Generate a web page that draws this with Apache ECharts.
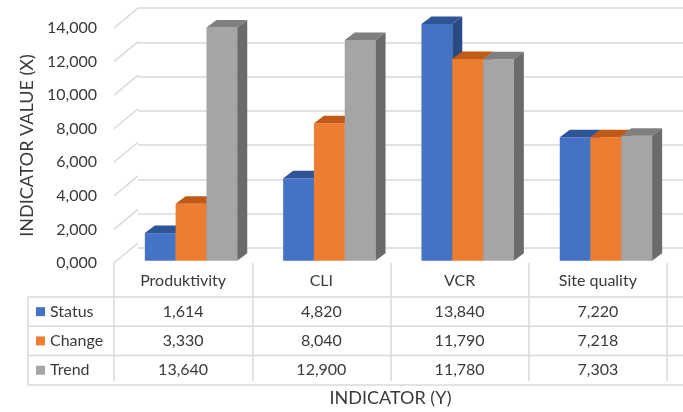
<!DOCTYPE html>
<html>
<head>
<meta charset="utf-8">
<title>Indicator values</title>
<script src="https://cdn.jsdelivr.net/npm/echarts/dist/echarts.min.js"></script>
<style>
  html, body { margin: 0; padding: 0; background: #ffffff; }
  #chart { width: 683px; height: 412px; }
</style>
</head>
<body>
<div id="chart"></div>
<script>
// ---- data ----
const categories = ['Produktivity', 'CLI', 'VCR', 'Site quality'];
const seriesNames = ['Status', 'Change', 'Trend'];
const statusValues = [1.614, 4.820, 13.840, 7.220];
const changeValues = [3.330, 8.040, 11.790, 7.218];
const trendValues = [13.640, 12.900, 11.780, 7.303];
const yMin = 0;
const yMax = 14;
const yStep = 2;
const yTicks = [0, 2, 4, 6, 8, 10, 12, 14];

// ---- styling ----
const FONT = 'Lato, "Liberation Sans", sans-serif';
const TEXT = '#3a3a3a';
const GRID_LINE = '#d9d9d9';
const palette = [
  { front: '#4472c4', top: '#2f5597', side: '#294a82' },
  { front: '#ed7d31', top: '#c25a16', side: '#a84f14' },
  { front: '#a5a5a5', top: '#7f7f7f', side: '#6b6b6b' }
];
const DEPTH_X = 10, DEPTH_Y = 7.5;     // bar depth (projected)
const WALL_X = 24, WALL_Y = 20;        // side wall depth (projected)
const GROUP_RATIO = 0.668;             // share of a category band used by the bars

const fmt = v => v.toFixed(3).replace('.', ',');
const allValues = [statusValues, changeValues, trendValues];

function barRenderer(idx) {
  const c = palette[idx];
  return function (params, api) {
    const cat = api.value(0), val = api.value(1);
    const base = api.coord([cat, 0]);
    const top = api.coord([cat, val]);
    const band = api.size([1, 0])[0];
    const w = band * GROUP_RATIO / 3;
    const x0 = base[0] - band * GROUP_RATIO / 2 + idx * w;
    const x1 = x0 + w;
    const yb = base[1], yt = top[1];
    return {
      type: 'group',
      children: [
        { type: 'rect', shape: { x: x0, y: yt, width: w, height: yb - yt }, style: { fill: c.front } },
        { type: 'polygon', shape: { points: [[x0, yt], [x1, yt], [x1 + DEPTH_X, yt - DEPTH_Y], [x0 + DEPTH_X, yt - DEPTH_Y]] }, style: { fill: c.top } },
        { type: 'polygon', shape: { points: [[x1, yt], [x1 + DEPTH_X, yt - DEPTH_Y], [x1 + DEPTH_X, yb - DEPTH_Y], [x1, yb]] }, style: { fill: c.side } }
      ]
    };
  };
}

const chart = echarts.init(document.getElementById('chart'), null, { renderer: 'canvas' });

const option = {
  animation: false,
  textStyle: { fontFamily: FONT },
  grid: [
    // 0: front plane (axis labels, table header)
    { left: 114, right: 16, top: 28, bottom: 144 },
    // 1: back wall
    { left: 138, right: 0, top: 8, bottom: 164 },
    // 2: bar plane
    { left: 121.9, right: 7.9, top: 21.3, bottom: 151.3 }
  ],
  xAxis: [
    {
      gridIndex: 0, type: 'category', data: categories, boundaryGap: true,
      axisLine: { show: false },
      axisTick: { show: true, length: 118, lineStyle: { color: GRID_LINE, width: 1.5 } },
      axisLabel: { color: TEXT, fontSize: 16, margin: 10, fontFamily: FONT },
      name: 'INDICATOR (Y)', nameLocation: 'middle', nameGap: 126,
      nameTextStyle: { color: TEXT, fontSize: 18, fontFamily: FONT }
    },
    { gridIndex: 1, type: 'category', data: categories, show: false },
    { gridIndex: 2, type: 'category', data: categories, show: false, boundaryGap: true }
  ],
  yAxis: [
    {
      gridIndex: 0, type: 'value', min: yMin, max: yMax, interval: yStep,
      axisLine: { show: false }, axisTick: { show: false }, splitLine: { show: false },
      axisLabel: { color: TEXT, fontSize: 16, margin: 17, formatter: v => fmt(v), fontFamily: FONT },
      name: 'INDICATOR VALUE (X)', nameLocation: 'middle', nameGap: 78, nameRotate: 90,
      nameTextStyle: { color: TEXT, fontSize: 18, fontFamily: FONT }
    },
    {
      gridIndex: 1, type: 'value', min: yMin, max: yMax, interval: yStep,
      axisLine: { show: false }, axisTick: { show: false }, axisLabel: { show: false },
      splitLine: { show: true, lineStyle: { color: GRID_LINE, width: 1.5 } }
    },
    { gridIndex: 2, type: 'value', min: yMin, max: yMax, interval: yStep, show: false, splitLine: { show: false } }
  ],
  series: [
    // side wall: diagonal gridline segments from the front plane to the back wall
    {
      type: 'custom', xAxisIndex: 0, yAxisIndex: 0, silent: true, clip: false,
      data: yTicks.map(t => [0, t]),
      encode: { x: 0, y: 1 },
      renderItem: function (params, api) {
        const p = api.coord([0, api.value(1)]);
        const x = params.coordSys.x;
        return {
          type: 'line',
          shape: { x1: x, y1: p[1], x2: x + WALL_X, y2: p[1] - WALL_Y },
          style: { stroke: GRID_LINE, lineWidth: 1.5 }
        };
      }
    }
  ].concat(seriesNames.map((name, i) => ({
    type: 'custom', name: name, xAxisIndex: 2, yAxisIndex: 2, clip: false,
    data: allValues[i].map((v, k) => [k, v]),
    encode: { x: 0, y: 1 },
    renderItem: barRenderer(i)
  })))
};

chart.setOption(option);

// ---- data table under the plot ----
const TABLE_LEFT = 28;
const ROW_TOP = 297;
const ROW_H = 29.3;
const colRight = chart.convertToPixel({ gridIndex: 0 }, [categories.length - 0.5, 0])[0];
const elements = [];

for (let r = 0; r <= seriesNames.length; r++) {
  const y = ROW_TOP + r * ROW_H;
  elements.push({
    type: 'line', silent: true,
    shape: { x1: TABLE_LEFT, y1: y, x2: colRight, y2: y },
    style: { stroke: GRID_LINE, lineWidth: 1.5 }
  });
}
elements.push({
  type: 'line', silent: true,
  shape: { x1: TABLE_LEFT, y1: ROW_TOP, x2: TABLE_LEFT, y2: ROW_TOP + seriesNames.length * ROW_H },
  style: { stroke: GRID_LINE, lineWidth: 1.5 }
});

seriesNames.forEach((name, r) => {
  const cy = ROW_TOP + (r + 0.5) * ROW_H;
  elements.push({
    type: 'rect', silent: true,
    shape: { x: TABLE_LEFT + 8, y: cy - 4.5, width: 9, height: 9 },
    style: { fill: palette[r].front }
  });
  elements.push({
    type: 'text', silent: true,
    style: { x: TABLE_LEFT + 22, y: cy, text: name, fill: TEXT, font: '16px ' + FONT, align: 'left', verticalAlign: 'middle' }
  });
  allValues[r].forEach((v, k) => {
    const cx = chart.convertToPixel({ gridIndex: 0 }, [k, 0])[0];
    elements.push({
      type: 'text', silent: true,
      style: { x: cx, y: cy, text: fmt(v), fill: TEXT, font: '16px ' + FONT, align: 'center', verticalAlign: 'middle' }
    });
  });
});

chart.setOption({ graphic: { elements: elements } });
</script>
</body>
</html>
